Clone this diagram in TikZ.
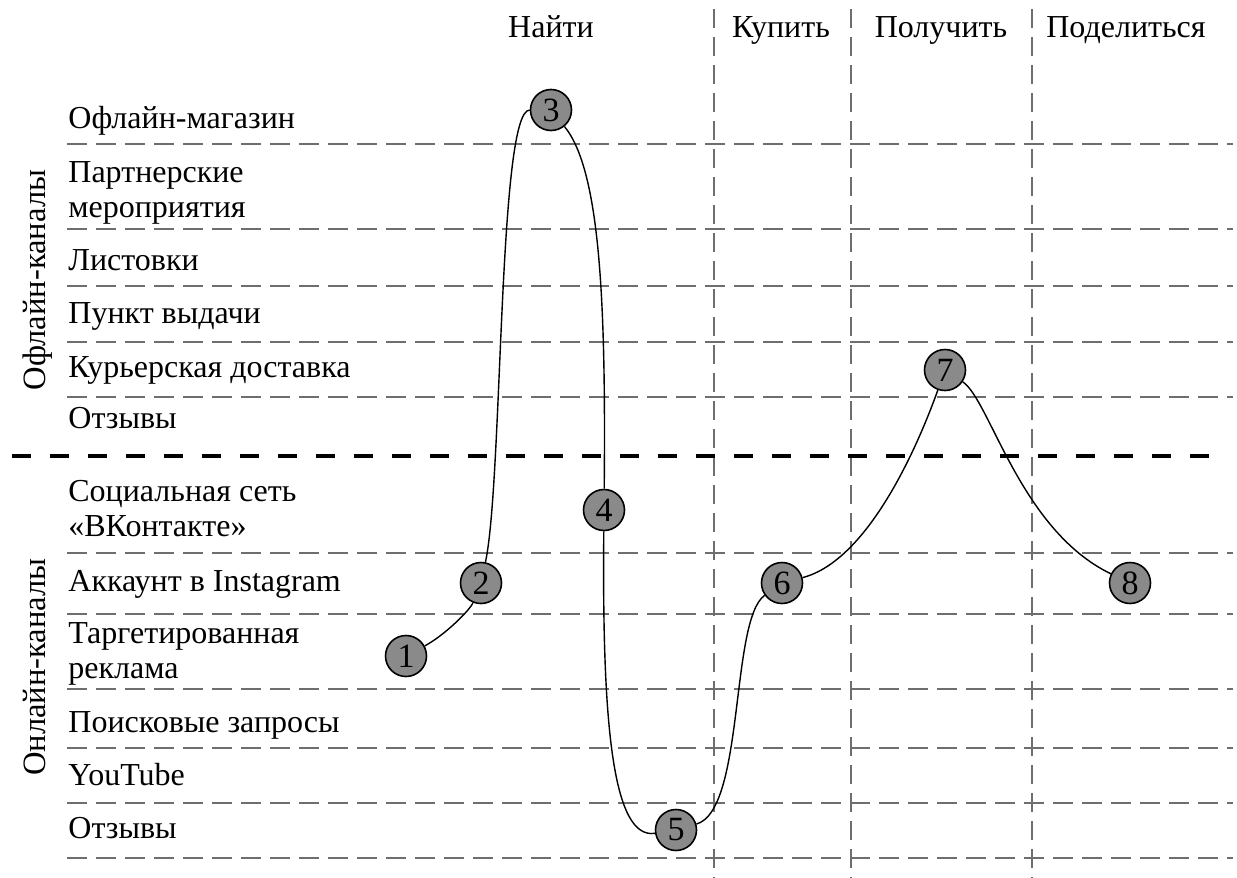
\documentclass[tikz,border=0pt]{standalone}
\usepackage{fontspec}
\setmainfont{Liberation Serif}
\definecolor{gridgray}{HTML}{6E6E6E}
\definecolor{dotgray}{HTML}{8A8A8A}
\begin{document}
\begin{tikzpicture}[x=0.5pt,y=-0.5pt,
  every node/.style={font=\fontsize{16}{17.5}\selectfont},
  rowlabel/.style={anchor=base west, inner sep=0pt, align=left},
  head/.style={anchor=base, inner sep=0pt},
  side/.style={rotate=90, anchor=base, inner sep=0pt, font=\fontsize{16.3}{18}\selectfont},
  gridh/.style={draw=gridgray, line width=1pt, dash pattern=on 10pt off 4.5pt},
  gridv/.style={draw=gridgray, line width=1pt, dash pattern=on 9.5pt off 4.5pt},
  split/.style={draw=black, line width=2pt, dash pattern=on 9.5pt off 9.5pt},
  stepdot/.style={circle, draw=black, line width=0.8pt, fill=dotgray,
                  minimum size=20.5pt, inner sep=0pt, font=\fontsize{17}{18}\selectfont},
  journey/.style={draw=black, line width=0.7pt}
]
\useasboundingbox (0,0) rectangle (1237,878);

% row separators and stage dividers
\foreach \y in {144,229,286,342,397,553,614,689,748,803,858}
  \draw[gridh] (67,\y) -- (1233,\y);
\foreach \x in {714,851,1032}
  \draw[gridv] (\x,9) -- (\x,878);
% offline / online boundary
\draw[split] (12,456) -- (1222,456);

% stage headers
\node[head] (hfind) at (551,38) {Найти};
\node[head] (hbuy)  at (781,38) {Купить};
\node[head] (hget)  at (941,38) {Получить};
\node[head] (hshare) at (1126,38) {Поделиться};

% channel groups
\node[side] (goff) at (45,280) {Офлайн-каналы};
\node[side] (gon)  at (45,667) {Онлайн-каналы};

% channels (two-line labels are placed by their last baseline)
\node[rowlabel] (r1)  at (68,128) {Офлайн-магазин};
\node[rowlabel] (r2)  at (68,217) {Партнерские\\мероприятия};
\node[rowlabel] (r3)  at (68,270) {Листовки};
\node[rowlabel] (r4)  at (68,323) {Пункт выдачи};
\node[rowlabel] (r5)  at (68,377) {Курьерская доставка};
\node[rowlabel] (r6)  at (68,428) {Отзывы};
\node[rowlabel] (r7)  at (68,536) {Социальная сеть\\«ВКонтакте»};
\node[rowlabel] (r8)  at (68,591) {Аккаунт в Instagram};
\node[rowlabel] (r9)  at (68,678) {Таргетированная\\реклама};
\node[rowlabel] (r10) at (68,732) {Поисковые запросы};
\node[rowlabel] (r11) at (68,785) {YouTube};
\node[rowlabel] (r12) at (68,838) {Отзывы};

% journey steps
\node[stepdot] (n1) at (406,656) {1};
\node[stepdot] (n2) at (481,583) {2};
\node[stepdot] (n3) at (551,110) {3};
\node[stepdot] (n4) at (604,510) {4};
\node[stepdot] (n5) at (676,830) {5};
\node[stepdot] (n6) at (782,583) {6};
\node[stepdot] (n7) at (945,370) {7};
\node[stepdot] (n8) at (1130,583) {8};

% journey path
\draw[journey] (n1) .. controls (445,635) and (470,610) .. (n2);
\draw[journey] (n2) .. controls (503,480) and (498,110) .. (n3);
\draw[journey] (n3) .. controls (600,170) and (606,300) .. (n4);
\draw[journey] (n4) .. controls (602,720) and (612,840) .. (n5);
\draw[journey] (n5) .. controls (745,810) and (730,620) .. (n6);
\draw[journey] (n6) .. controls (870,560) and (920,440) .. (n7);
\draw[journey] (n7) .. controls (990,400) and (1020,530) .. (n8);
\end{tikzpicture}
\end{document}
